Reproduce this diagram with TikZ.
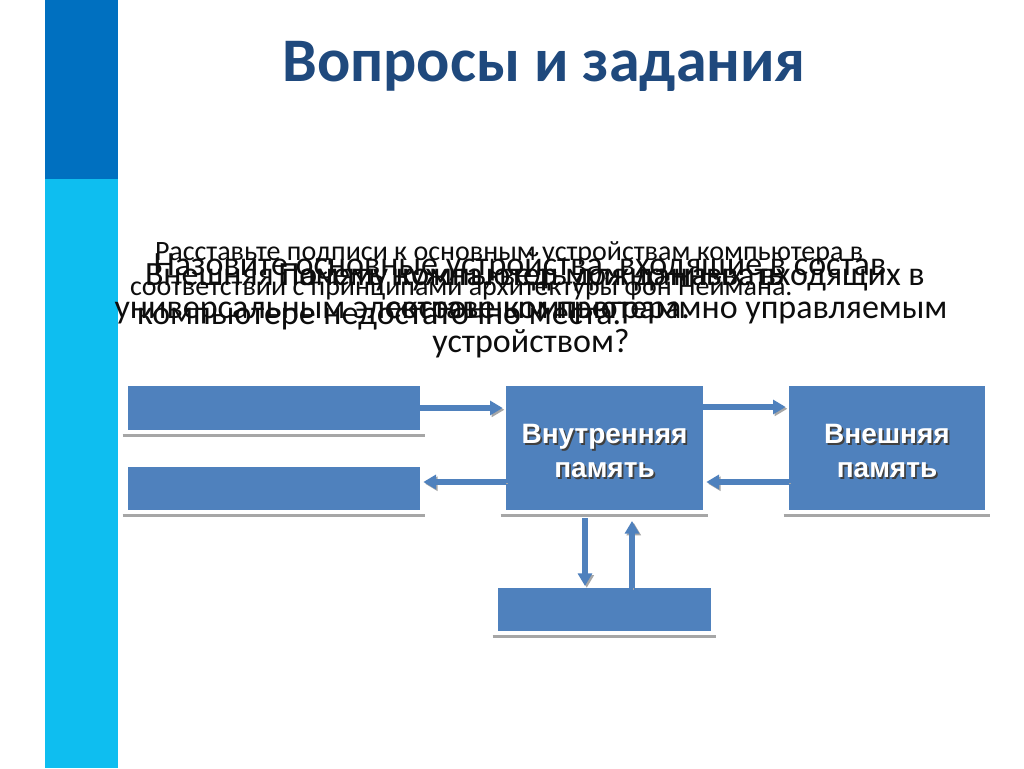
\documentclass[tikz,border=0pt]{standalone}
\usepackage{fontspec}
\setmainfont{Carlito}
\newfontfamily\boxfont{Liberation Sans}
\usepackage{tikz}
\usetikzlibrary{arrows.meta,positioning}
\definecolor{boxblue}{HTML}{4F81BD}
\definecolor{titleblue}{HTML}{1F497D}
\definecolor{bardark}{HTML}{0070C0}
\definecolor{barlight}{HTML}{0EBEF0}
\definecolor{reflgray}{HTML}{A6A6A6}
\definecolor{inkblack}{HTML}{0D0D0D}

\begin{document}
\begin{tikzpicture}[
  x=0.75pt, y=-0.75pt,
  every node/.style={inner sep=0pt, outer sep=0pt},
  blk/.style={fill=boxblue},
  lbl/.style={font=\boxfont\bfseries\fontsize{21}{25.5}\selectfont, text=white, align=center},
  lblshadow/.style={lbl, text=black!75},
  q/.style={font=\fontsize{25.5}{30}\selectfont, text=inkblack},
  qsmall/.style={font=\fontsize{21}{25}\selectfont, text=inkblack},
  arr/.style={-{Triangle[length=9.5pt,width=10.5pt]}, line width=3.8pt, draw=boxblue,
              shorten >=2.5pt,
              preaction={draw=black!35, transform canvas={shift={(1.3pt,-1.3pt)}}}},
  refl/.style={draw=reflgray, line width=1.8pt},
]
  \fill[white] (0,0) rectangle (1024,768);
  \useasboundingbox (0,0) rectangle (1024,768);

  % side bar
  \fill[bardark] (45,0) rectangle (118,179);
  \fill[barlight] (45,179) rectangle (118,768);

  \node[font=\bfseries\fontsize{46.5}{54}\selectfont, text=titleblue, anchor=base] (title) at (544,81) {Вопросы и задания};

  % stacked question texts
  \node[qsmall, anchor=base west] (qa1) at (155,260) {Расставьте подписи к основным устройствам компьютера в};
  \node[qsmall, anchor=base west] (qa2) at (130,295) {соответствии с принципами архитектуры фон Неймана.};
  \node[q, anchor=base west] (qb1) at (145,285) {Внешняя память нужна, ведь для данных, входящих в};
  \node[q, anchor=base west] (qb2) at (137,324) {компьютере недостаточно места.};
  \node[q, anchor=base] (qc1) at (531,285) {Почему компьютер можно назвать};
  \node[q, anchor=base] (qc2) at (531,318) {универсальным электронным программно управляемым};
  \node[q, anchor=base] (qc3) at (531,352) {устройством?};
  \node[q, anchor=base] (qd1) at (520,275) {Назовите основные устройства, входящие в состав};
  \node[q, anchor=base east] (qd2) at (690,318) {составе компьютера.};

  % blocks
  \node[blk, minimum width=147.75pt, minimum height=93pt] (mem) at (604.5,448) {};
  \node[blk, minimum width=147pt, minimum height=93pt, right=64.5pt of mem] (ext) {};
  \node[blk, minimum width=219pt, minimum height=33pt] (inp) at (274,408) {};
  \node[blk, minimum width=219pt, minimum height=32.25pt] (outp) at (274,488.5) {};
  \node[blk, minimum width=159.75pt, minimum height=32.25pt, below=58.5pt of mem] (cpu) {};

  \foreach \b in {inp,outp,mem,ext,cpu}
    \draw[refl] ([xshift=-4pt,yshift=-4pt]\b.south west) -- ([xshift=4pt,yshift=-4pt]\b.south east);

  \node[lblshadow] at ([shift={(1.3pt,-3.6pt)}]mem.center) {Внутренняя\\память};
  \node[lbl] at ([yshift=-2.3pt]mem.center) {Внутренняя\\память};
  \node[lblshadow] at ([shift={(1.3pt,-3.6pt)}]ext.center) {Внешняя\\память};
  \node[lbl] at ([yshift=-2.3pt]ext.center) {Внешняя\\память};

  \draw[arr] (inp.east) -- (inp.east -| mem.west);
  \draw[arr] ([yshift=21pt]mem.south west) -- ([yshift=21pt]mem.south west -| outp.east);
  \draw[arr] ([yshift=-15.75pt]mem.north east) -- ([yshift=-15.75pt]mem.north east -| ext.west);
  \draw[arr] ([yshift=21pt]ext.south west) -- ([yshift=21pt]ext.south west -| mem.east);
  \draw[arr, shorten <=6pt, shorten >=1.5pt] ([xshift=59.25pt]mem.south west) -- ([xshift=59.25pt]mem.south west |- cpu.north);
  \draw[arr, shorten >=8.25pt] ([xshift=94.5pt]mem.south west |- cpu.north) -- ([xshift=94.5pt]mem.south west);
\end{tikzpicture}
\end{document}
